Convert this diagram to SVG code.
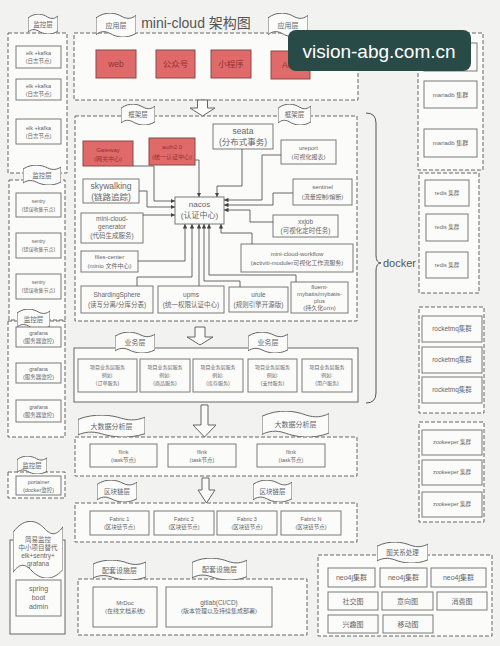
<svg xmlns="http://www.w3.org/2000/svg" xmlns:xlink="http://www.w3.org/1999/xlink" width="500" height="646" viewBox="0 0 500 646">
<style>
text{font-family:"Liberation Sans","Noto Sans CJK SC",sans-serif;fill:#666;text-anchor:middle}
.bx{fill:#fbfbfa;stroke:#7a7a7a;stroke-width:1}
.red{fill:#e06a6a;stroke:#8a4848;stroke-width:1}
.rt{fill:#8e3434}
.dash{fill:#fbfbfa;stroke:#666;stroke-width:1;stroke-dasharray:4 2}
.flagp{fill:#fbfbfa;stroke:#666;stroke-width:1;vector-effect:non-scaling-stroke}
.c{fill:none;stroke:#444;stroke-width:0.8;marker-end:url(#ah)}
.ha{fill:#fbfbfa;stroke:#666;stroke-width:1}
.s5{font-size:5px}.s55{font-size:5.5px}.s6{font-size:6px}.s65{font-size:6.5px}.s7{font-size:7px}.s8{font-size:8px}.s9{font-size:8.5px}
</style>
<defs>
<marker id="ah" viewBox="0 0 8 8" refX="8" refY="4" markerWidth="4.5" markerHeight="4.5" markerUnits="userSpaceOnUse" orient="auto"><path d="M0,0 L8,4 L0,8 Z" fill="#444"/></marker>
<symbol id="flag" viewBox="0 0 100 100" preserveAspectRatio="none"><path class="flagp" d="M0,20 C25,-10 50,0 65,15 C80,28 90,22 100,10 L100,85 C75,110 50,100 35,85 C20,72 10,78 0,90 Z"/></symbol>
</defs>
<rect width="500" height="646" fill="#f2f2f0"/>

<text x="196" y="28" style="font-size:14px;fill:#555">mini-cloud 架构图</text>

<!-- App layer -->
<g id="app-layer">
<rect class="dash" x="74" y="33" width="284" height="67"/>
<use href="#flag" x="96" y="13" width="40" height="24"/><text class="s7" x="116" y="28">应用层</text>
<use href="#flag" x="268" y="13" width="40" height="24"/><text class="s7" x="288" y="28">应用层</text>
</g>
<g id="web"><rect class="red" x="96" y="50" width="40" height="28"/><text class="s9 rt" x="116" y="67">web</text></g>
<g id="gzh"><rect class="red" x="156" y="50" width="39" height="28"/><text class="s9 rt" x="175.5" y="67">公众号</text></g>
<g id="xcx"><rect class="red" x="211" y="50" width="40" height="28"/><text class="s9 rt" x="231" y="67">小程序</text></g>
<g id="app"><rect class="red" x="271" y="51" width="39" height="28"/><text class="s9 rt" x="290.5" y="68">APP</text></g>

<!-- Framework layer -->
<g id="framework-layer">
<rect class="dash" x="75" y="116" width="282" height="205"/>
<use href="#flag" x="121" y="104" width="34" height="21"/><text class="s65" x="138" y="117">框架层</text>
<use href="#flag" x="278" y="104" width="33" height="21"/><text class="s65" x="294.5" y="117">框架层</text>
</g>
<g id="gateway"><rect class="red" x="83" y="141" width="50" height="25"/><text class="s6 rt" x="108" y="152">Gateway</text><text class="s6 rt" x="108" y="161">(网关中心)</text></g>
<g id="auth"><rect class="red" x="149" y="138" width="46" height="27"/><text class="s6 rt" x="172" y="149">auth2.0</text><text class="s6 rt" x="172" y="159">(统一认证中心)</text></g>
<g id="seata"><rect class="bx" x="213" y="124" width="60" height="25"/><text class="s9" x="243" y="134">seata</text><text class="s9" x="243" y="145">(分布式事务)</text></g>
<g id="ureport"><rect class="bx" x="281" y="140" width="55" height="24"/><text class="s6" x="308.5" y="150">ureport</text><text class="s6" x="308.5" y="159">(可视化报表)</text></g>
<g id="skywalking"><rect class="bx" x="83" y="179" width="56" height="24"/><text class="s9" x="111" y="189">skywalking</text><text class="s9" x="111" y="200">(链路追踪)</text></g>
<g id="sentinel"><rect class="bx" x="293" y="179" width="59" height="26"/><text class="s6" x="322.5" y="189">sentinel</text><text class="s6" x="322.5" y="199">(流量控制/熔断)</text></g>
<g id="nacos"><rect class="bx" x="175" y="197" width="49" height="27"/><text class="s8" x="199.5" y="207">nacos</text><text class="s8" x="199.5" y="218">(认证中心)</text></g>
<g id="generator"><rect class="bx" x="81" y="213" width="62" height="30"/><text class="s65" x="112" y="221">mini-cloud-</text><text class="s65" x="112" y="229">generator</text><text class="s65" x="112" y="238">(代码生成服务)</text></g>
<g id="xxjob"><rect class="bx" x="273" y="215" width="65" height="22"/><text class="s65" x="305.5" y="224">xxjob</text><text class="s65" x="305.5" y="233">(可视化定时任务)</text></g>
<g id="files-center"><rect class="bx" x="81" y="251" width="57" height="21"/><text class="s6" x="109.5" y="259">files-center</text><text class="s6" x="109.5" y="268">(minio 文件中心)</text></g>
<g id="workflow"><rect class="bx" x="241" y="244" width="112" height="28"/><text class="s6" x="297" y="256">mini-cloud-workflow</text><text class="s6" x="297" y="265">(activiti-moduler可视化工作流服务)</text></g>
<g id="sharding"><rect class="bx" x="81" y="286" width="72" height="27"/><text class="s65" x="117" y="297">ShardingSphere</text><text class="s65" x="117" y="307">(读写分离/分库分表)</text></g>
<g id="upms"><rect class="bx" x="158" y="286" width="66" height="27"/><text class="s65" x="191" y="297">upms</text><text class="s65" x="191" y="307">(统一权限认证中心)</text></g>
<g id="urule"><rect class="bx" x="229" y="287" width="59" height="25"/><text class="s65" x="258.5" y="297">urule</text><text class="s65" x="258.5" y="307">(规则引擎开源版)</text></g>
<g id="fluent"><rect class="bx" x="291" y="282" width="57" height="31"/><text class="s6" x="319.5" y="289">fluent-</text><text class="s6" x="319.5" y="296">mybatis/mybatis-</text><text class="s6" x="319.5" y="303">plus</text><text class="s6" x="319.5" y="310">(持久化orm)</text></g>

<g id="connectors">
<path class="c" d="M133,166 H154 V201 H175"/>
<path class="c" d="M195,160 H199 V197"/>
<path class="c" d="M242,149 V186 H217 V197"/>
<path class="c" d="M281,155 H262 V200 H224"/>
<path class="c" d="M293,193 H273 V205 H224"/>
<path class="c" d="M273,222 H250 V210 H224"/>
<path class="c" d="M252,244 V233 H221 V224"/>
<path class="c" d="M139,191 H147 V207 H175"/>
<path class="c" d="M143,215 H175"/>
<path class="c" d="M138,261 H185 V224"/>
<path class="c" d="M137,286 V277 H192 V224"/>
<path class="c" d="M199,286 V224"/>
<path class="c" d="M240,287 V281 H204 V224"/>
<path class="c" d="M296,282 V275 H209 V224"/>
<path class="ha" d="M197.5,100 H207.5 V108 H215 L202.5,116 L190,108 H197.5 Z"/>
<path class="ha" d="M195,327 H205 V337 H213 L200,345 L187,337 H195 Z"/>
<path class="ha" d="M201,405 H208 V425 H216 L204.5,437 L193,425 H201 Z"/>
<path class="ha" d="M202,478 H209 V490 H215 L206.5,503 L198,490 H202 Z"/>
<path d="M366,113 Q376,113 376,123 V255 Q376,263 381,263 Q376,263 376,271 V393 Q376,403 366,403" fill="none" stroke="#555" stroke-width="1"/>
</g>
<text x="383" y="267" style="font-size:11px;text-anchor:start;fill:#555">docker</text>

<!-- Business layer -->
<g id="business-layer">
<rect class="bx" x="74" y="348" width="284" height="54" style="stroke:#666"/>
<use href="#flag" x="115" y="332" width="40" height="21"/><text class="s7" x="135" y="345">业务层</text>
<use href="#flag" x="248" y="332" width="40" height="21"/><text class="s7" x="268" y="345">业务层</text>
</g>
<g id="biz1"><rect class="bx" x="78" y="359" width="59" height="33"/><text class="s5" x="107.5" y="369">项目业务层服务</text><text class="s5" x="107.5" y="377">例如:</text><text class="s5" x="107.5" y="385">(订单服务)</text></g>
<g id="biz2"><rect class="bx" x="140" y="359" width="50" height="33"/><text class="s5" x="165" y="369">项目业务层服务</text><text class="s5" x="165" y="377">例如:</text><text class="s5" x="165" y="385">(商品服务)</text></g>
<g id="biz3"><rect class="bx" x="193" y="359" width="50" height="33"/><text class="s5" x="218" y="369">项目业务层服务</text><text class="s5" x="218" y="377">例如:</text><text class="s5" x="218" y="385">(库存服务)</text></g>
<g id="biz4"><rect class="bx" x="248" y="359" width="49" height="33"/><text class="s5" x="272.5" y="369">项目业务层服务</text><text class="s5" x="272.5" y="377">例如:</text><text class="s5" x="272.5" y="385">(支付服务)</text></g>
<g id="biz5"><rect class="bx" x="302" y="359" width="50" height="33"/><text class="s5" x="327" y="369">项目业务层服务</text><text class="s5" x="327" y="377">例如:</text><text class="s5" x="327" y="385">(用户服务)</text></g>

<!-- Big data layer -->
<g id="bigdata-layer">
<rect class="dash" x="75" y="437" width="282" height="39"/>
<use href="#flag" x="78" y="415" width="67" height="22"/><text class="s7" x="111.5" y="429">大数据分析层</text>
<use href="#flag" x="262" y="411" width="67" height="26"/><text class="s7" x="295.5" y="427">大数据分析层</text>
</g>
<g id="flink1"><rect class="bx" x="90" y="444" width="67" height="23"/><text class="s55" x="123.5" y="454">flink</text><text class="s55" x="123.5" y="462">(task节点)</text></g>
<g id="flink2"><rect class="bx" x="168" y="444" width="68" height="23"/><text class="s55" x="202" y="454">flink</text><text class="s55" x="202" y="462">(task节点)</text></g>
<g id="flink3"><rect class="bx" x="257" y="444" width="68" height="23"/><text class="s55" x="291" y="454">flink</text><text class="s55" x="291" y="462">(task节点)</text></g>

<!-- Blockchain layer -->
<g id="blockchain-layer">
<rect class="dash" x="75" y="503" width="282" height="39"/>
<use href="#flag" x="97" y="480" width="40" height="22"/><text class="s65" x="117" y="494">区块链层</text>
<use href="#flag" x="253" y="480" width="39" height="22"/><text class="s65" x="272.5" y="494">区块链层</text>
</g>
<g id="fabric1"><rect class="bx" x="90" y="511" width="59" height="24"/><text class="s55" x="119.5" y="521">Fabric 1</text><text class="s55" x="119.5" y="529">(区块链节点)</text></g>
<g id="fabric2"><rect class="bx" x="154" y="511" width="60" height="24"/><text class="s55" x="184" y="521">Fabric 2</text><text class="s55" x="184" y="529">(区块链节点)</text></g>
<g id="fabric3"><rect class="bx" x="217" y="511" width="60" height="24"/><text class="s55" x="247" y="521">Fabric 3</text><text class="s55" x="247" y="529">(区块链节点)</text></g>
<g id="fabricN"><rect class="bx" x="281" y="511" width="60" height="24"/><text class="s55" x="311" y="521">Fabric N</text><text class="s55" x="311" y="529">(区块链节点)</text></g>

<!-- Support layer -->
<g id="support-layer">
<rect class="dash" x="78" y="579" width="229" height="56"/>
<use href="#flag" x="93" y="560" width="53" height="20"/><text class="s7" x="119.5" y="573">配套设施层</text>
<use href="#flag" x="192" y="558" width="55" height="22"/><text class="s7" x="219.5" y="572">配套设施层</text>
</g>
<g id="mrdoc"><rect class="bx" x="93" y="587" width="64" height="40"/><text class="s6" x="125" y="605">MrDoc</text><text class="s6" x="125" y="613">(在线文档系统)</text></g>
<g id="gitlab"><rect class="bx" x="166" y="587" width="106" height="40"/><text class="s65" x="219" y="605">gitlab(CI/CD)</text><text class="s6" x="219" y="613">(版本管理以及持续集成部署)</text></g>

<!-- Graph layer -->
<g id="graph-layer">
<rect class="dash" x="318" y="555" width="174" height="81"/>
<use href="#flag" x="377" y="542" width="51" height="21"/><text class="s65" x="402.5" y="555">图关系处理</text>
</g>
<g id="neo1"><rect class="bx" x="328" y="568" width="47" height="19"/><text class="s7" x="351.5" y="580">neo4j集群</text></g>
<g id="neo2"><rect class="bx" x="380" y="568" width="47" height="19"/><text class="s7" x="403.5" y="580">neo4j集群</text></g>
<g id="neo3"><rect class="bx" x="431" y="568" width="55" height="19"/><text class="s7" x="458.5" y="580">neo4j集群</text></g>
<g id="social"><rect class="bx" x="328" y="592" width="50" height="18"/><text class="s7" x="353" y="604">社交图</text></g>
<g id="intent"><rect class="bx" x="382" y="592" width="51" height="18"/><text class="s7" x="407.5" y="604">意向图</text></g>
<g id="consume"><rect class="bx" x="437" y="592" width="50" height="18"/><text class="s7" x="462" y="604">消费图</text></g>
<g id="interest"><rect class="bx" x="328" y="615" width="50" height="18"/><text class="s7" x="353" y="627">兴趣图</text></g>
<g id="mobile"><rect class="bx" x="383" y="615" width="50" height="18"/><text class="s7" x="408" y="627">移动图</text></g>

<!-- Right column -->
<g id="mariadb-group"><rect class="dash" x="418" y="33" width="65" height="137"/></g>
<g id="mariadb1"><rect class="bx" x="424" y="43" width="53" height="28"/><text class="s6" x="450.5" y="59">mariadb 集群</text></g>
<g id="mariadb2"><rect class="bx" x="424" y="81" width="53" height="27"/><text class="s6" x="450.5" y="97">mariadb 集群</text></g>
<g id="mariadb3"><rect class="bx" x="424" y="129" width="53" height="28"/><text class="s6" x="450.5" y="145">mariadb 集群</text></g>
<g id="redis-group"><rect class="dash" x="419" y="173" width="60" height="120"/></g>
<g id="redis1"><rect class="bx" x="425" y="180" width="44" height="26"/><text class="s55" x="447" y="195">redis 集群</text></g>
<g id="redis2"><rect class="bx" x="426" y="214" width="42" height="27"/><text class="s55" x="447" y="229">redis 集群</text></g>
<g id="redis3"><rect class="bx" x="426" y="252" width="42" height="26"/><text class="s55" x="447" y="267">redis 集群</text></g>
<g id="rocketmq-group"><rect class="dash" x="419" y="307" width="65" height="106"/></g>
<g id="rocketmq1"><rect class="bx" x="422" y="316" width="60" height="26"/><text class="s65" x="452" y="331">rocketmq集群</text></g>
<g id="rocketmq2"><rect class="bx" x="422" y="347" width="60" height="26"/><text class="s65" x="452" y="362">rocketmq集群</text></g>
<g id="rocketmq3"><rect class="bx" x="422" y="377" width="60" height="26"/><text class="s65" x="452" y="392">rocketmq集群</text></g>
<g id="zookeeper-group"><rect class="dash" x="419" y="422" width="65" height="100"/></g>
<g id="zookeeper1"><rect class="bx" x="422" y="430" width="60" height="25"/><text class="s55" x="452" y="444">zookeeper 集群</text></g>
<g id="zookeeper2"><rect class="bx" x="422" y="460" width="60" height="25"/><text class="s55" x="452" y="474">zookeeper 集群</text></g>
<g id="zookeeper3"><rect class="bx" x="422" y="492" width="60" height="25"/><text class="s55" x="452" y="506">zookeeper 集群</text></g>

<!-- Left column -->
<g id="monitor-elk">
<rect class="dash" x="8" y="33" width="59" height="140"/>
<use href="#flag" x="28" y="14" width="30" height="20"/><text class="s65" x="43" y="27">监控层</text>
</g>
<g id="elk1"><rect class="bx" x="16" y="46" width="45" height="22"/><text class="s55" x="38.5" y="55">elk +kafka</text><text class="s55" x="38.5" y="63">(日志节点)</text></g>
<g id="elk2"><rect class="bx" x="16" y="79" width="45" height="21"/><text class="s55" x="38.5" y="88">elk +kafka</text><text class="s55" x="38.5" y="96">(日志节点)</text></g>
<g id="elk3"><rect class="bx" x="16" y="119" width="45" height="25"/><text class="s55" x="38.5" y="130">elk +kafka</text><text class="s55" x="38.5" y="138">(日志节点)</text></g>
<g id="monitor-sentry">
<rect class="dash" x="9" y="180" width="56" height="140"/>
<use href="#flag" x="23" y="165" width="38" height="20"/><text class="s65" x="42" y="178">监控层</text>
</g>
<g id="sentry1"><rect class="bx" x="16" y="193" width="45" height="24"/><text class="s5" x="38.5" y="203">sentry</text><text class="s5" x="38.5" y="211">(错误收集节点)</text></g>
<g id="sentry2"><rect class="bx" x="16" y="233" width="45" height="25"/><text class="s5" x="38.5" y="243">sentry</text><text class="s5" x="38.5" y="251">(错误收集节点)</text></g>
<g id="sentry3"><rect class="bx" x="16" y="274" width="45" height="25"/><text class="s5" x="38.5" y="284">sentry</text><text class="s5" x="38.5" y="292">(错误收集节点)</text></g>
<g id="monitor-grafana">
<rect class="dash" x="8" y="321" width="57" height="116"/>
<use href="#flag" x="17" y="309" width="33" height="20"/><text class="s65" x="33.5" y="322">监控层</text>
</g>
<g id="grafana1"><rect class="bx" x="16" y="327" width="45" height="20"/><text class="s55" x="38.5" y="335">grafana</text><text class="s55" x="38.5" y="343">(服务器监控)</text></g>
<g id="grafana2"><rect class="bx" x="16" y="363" width="45" height="20"/><text class="s55" x="38.5" y="371">grafana</text><text class="s55" x="38.5" y="379">(服务器监控)</text></g>
<g id="grafana3"><rect class="bx" x="16" y="400" width="45" height="22"/><text class="s55" x="38.5" y="409">grafana</text><text class="s55" x="38.5" y="417">(服务器监控)</text></g>
<g id="monitor-portainer">
<rect class="dash" x="8" y="472" width="57" height="26"/>
<use href="#flag" x="17" y="456" width="30" height="18"/><text class="s65" x="32" y="468">监控层</text>
</g>
<g id="portainer"><rect class="bx" x="16" y="476" width="45" height="19"/><text class="s55" x="38.5" y="484">portainer</text><text class="s55" x="38.5" y="492">(docker监控)</text></g>
<g id="simple-monitor">
<rect class="bx" x="10" y="540" width="55" height="94" style="stroke:#666"/>
<use href="#flag" x="13" y="521" width="50" height="57"/>
<text class="s65" x="38" y="542">简易监控</text><text class="s65" x="38" y="550">中小项目替代</text><text class="s65" x="38" y="558">elk+sentry+</text><text class="s65" x="38" y="566">grafana</text>
</g>
<g id="springboot"><rect class="bx" x="16" y="580" width="45" height="36"/><text class="s7" x="38.5" y="591">spring</text><text class="s7" x="38.5" y="600">boot</text><text class="s7" x="38.5" y="609">admin</text></g>

<!-- watermark -->
<g id="watermark">
<rect x="288" y="30" width="183" height="41" rx="8" fill="#294b48"/>
<text x="379" y="58" style="font-size:19px;fill:#fff">vision-abg.com.cn</text>
</g>
</svg>
